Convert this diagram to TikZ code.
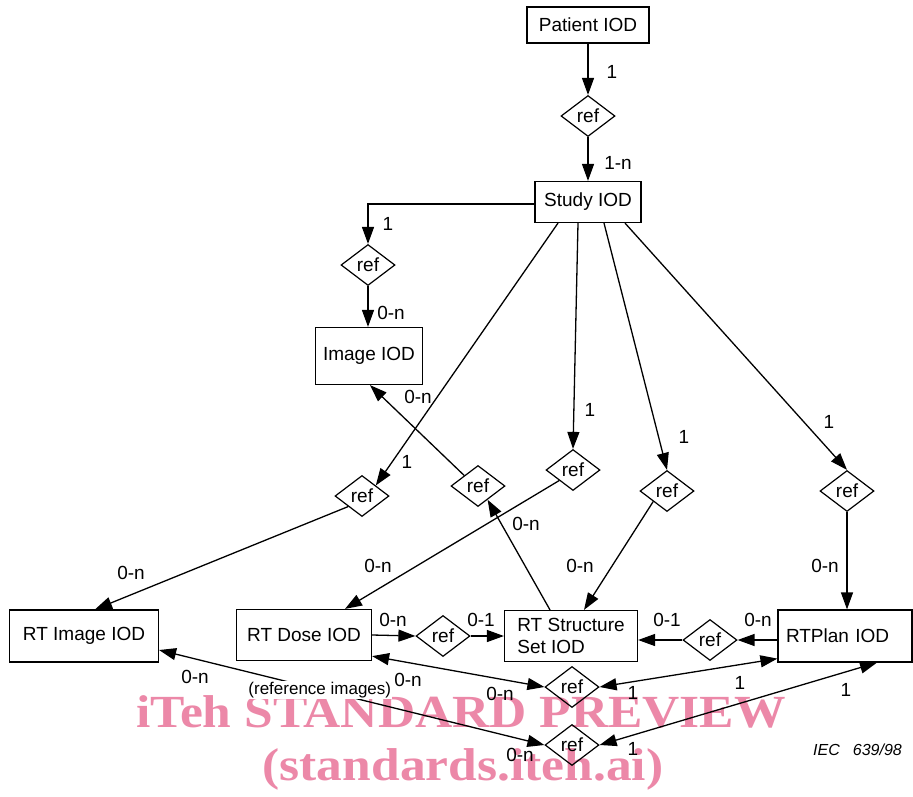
\documentclass[tikz,border=0pt]{standalone}
\usepackage{fontspec}
\setmainfont{Liberation Sans}
\newfontfamily\wmfont{Liberation Serif}
\usetikzlibrary{shapes.geometric,arrows.meta,calc}
\definecolor{wmpink}{RGB}{236,136,168}
\begin{document}
\begin{tikzpicture}[x=1pt,y=-1pt,
  every node/.style={font=\fontsize{19}{22}\selectfont},
  iod/.style={draw,line width=1.2pt,rectangle,inner sep=0pt},
  refd/.style={draw,diamond,line width=1.2pt,inner sep=0pt,minimum width=54pt,minimum height=41pt},
  lab/.style={inner sep=0pt},
  conn/.style={line width=1.3pt,-{Triangle[length=17pt,width=12pt]}},
  bconn/.style={line width=1.3pt,{Triangle[length=17pt,width=12pt]}-{Triangle[length=17pt,width=12pt]}},
  plainc/.style={line width=1.3pt}]
\useasboundingbox (0,0) rectangle (913,796);
\fill[white] (0,0) rectangle (913,796);

% watermark
\node[lab,anchor=base,text=wmpink,font=\wmfont\bfseries\fontsize{46}{50}\selectfont,xscale=1.12] (wm1) at (461,727) {iTeh STANDARD PREVIEW};
\node[lab,anchor=base,text=wmpink,font=\wmfont\bfseries\fontsize{46}{50}\selectfont,xscale=1.12] (wm2) at (463,780) {(standards.iteh.ai)};

% boxes
\node[iod,minimum width=122pt,minimum height=36pt] (patient) at (588,25) {Patient IOD};
\node[iod,minimum width=106pt,minimum height=41pt] (study) at (588,202) {Study IOD};
\node[iod,minimum width=107pt,minimum height=57pt] (image) at (369,356) {Image IOD};
\node[iod,minimum width=149pt,minimum height=52pt] (rtimage) at (84,636) {RT Image IOD};
\node[iod,minimum width=135pt,minimum height=51pt] (dose) at (304,635) {RT Dose IOD};
\node[iod,minimum width=133pt,minimum height=51pt,align=left] (struct) at (571,636) {RT Structure\\Set IOD};
\node[iod,minimum width=134pt,minimum height=52pt,text width=118pt,align=left] (rtplan) at (845,636) {RTPlan IOD};

% diamonds
\node[refd] (r1) at (588,116) {ref};
\node[refd] (r2) at (368,265) {ref};
\node[refd] (r3) at (362,496) {ref};
\node[refd] (r4) at (573,470) {ref};
\node[refd] (r5) at (667,491) {ref};
\node[refd] (r6) at (847,491) {ref};
\node[refd] (r7) at (478,486) {ref};
\node[refd] (r8) at (443,636) {ref};
\node[refd] (r9) at (710,640) {ref};
\node[refd] (r10) at (572,687) {ref};
\node[refd] (r11) at (572,745) {ref};

% connectors
\draw[conn] (patient.south) -- (r1.north);
\draw[conn] (r1.south) -- (study.north);
\draw[conn] ([yshift=-2pt]study.west) -| (r2.north);
\draw[conn] (r2.south) -- (r2.south |- image.north);
\draw[conn] ([xshift=-30pt]study.south) -- (r3.north east);
\draw[conn] ([xshift=-10pt]study.south) -- (r4.north);
\draw[conn] ([xshift=16pt]study.south) -- (r5.north);
\draw[conn] ([xshift=37pt]study.south) -- (r6.north);
\draw[conn] (r7.north west) -- ([xshift=1pt]image.south);
\draw[conn] ([xshift=-21pt]struct.north) -- (r7.-55);
\draw[conn] (r3.south west) -- ([xshift=11pt]rtimage.north);
\draw[conn] (r4.south west) -- ([xshift=41pt]dose.north);
\draw[conn] (r5.south west) -- ([xshift=13pt]struct.north);
\draw[conn] (r6.south) -- (r6.south |- rtplan.north);
\draw[conn] (dose.east) -- (r8.west);
\draw[conn] (r8.east) -- (struct.west);
\draw[conn] ([yshift=-4pt]rtplan.west) -- (r9.east);
\draw[conn] (r9.west) -- (r9.west -| struct.east);
\draw[bconn] ([yshift=5pt]dose.south east) -- (r10.west);
\draw[bconn] ([yshift=4pt]rtplan.south west) -- (r10.east);
\draw[bconn] ([yshift=-14pt]rtimage.east) -- node[pos=0.417,fill=white,inner sep=1pt,font=\fontsize{17}{20}\selectfont] (refimg) {(reference images)} (r11.west);
\draw[bconn] ([xshift=32pt]rtplan.south) -- (r11.east);

% cardinality labels
\node[lab] (l1) at (612,72) {1};
\node[lab] (l2) at (618,163) {1-n};
\node[lab] (l3) at (388,224) {1};
\node[lab] (l4) at (391,313) {0-n};
\node[lab] (l5) at (407,462) {1};
\node[lab] (l6) at (590,410) {1};
\node[lab] (l7) at (684,437) {1};
\node[lab] (l8) at (829,422) {1};
\node[lab] (l9) at (418,397) {0-n};
\node[lab] (l10) at (526,524) {0-n};
\node[lab] (l11) at (131,573) {0-n};
\node[lab] (l12) at (378,566) {0-n};
\node[lab] (l13) at (580,566) {0-n};
\node[lab] (l14) at (825,566) {0-n};
\node[lab] (l15) at (393,620) {0-n};
\node[lab] (l16) at (481,620) {0-1};
\node[lab] (l17) at (667,620) {0-1};
\node[lab] (l18) at (758,620) {0-n};
\node[lab] (l19) at (408,680) {0-n};
\node[lab] (l20) at (500,694) {0-n};
\node[lab] (l21) at (633,693) {1};
\node[lab] (l22) at (740,683) {1};
\node[lab] (l23) at (195,677) {0-n};
\node[lab] (l24) at (520,755) {0-n};
\node[lab] (l25) at (633,749) {1};
\node[lab] (l26) at (846,690) {1};

\node[lab,anchor=base west,font=\itshape\fontsize{16}{19}\selectfont] (iec) at (813,755) {IEC\hspace{13pt}639/98};
\end{tikzpicture}
\end{document}
